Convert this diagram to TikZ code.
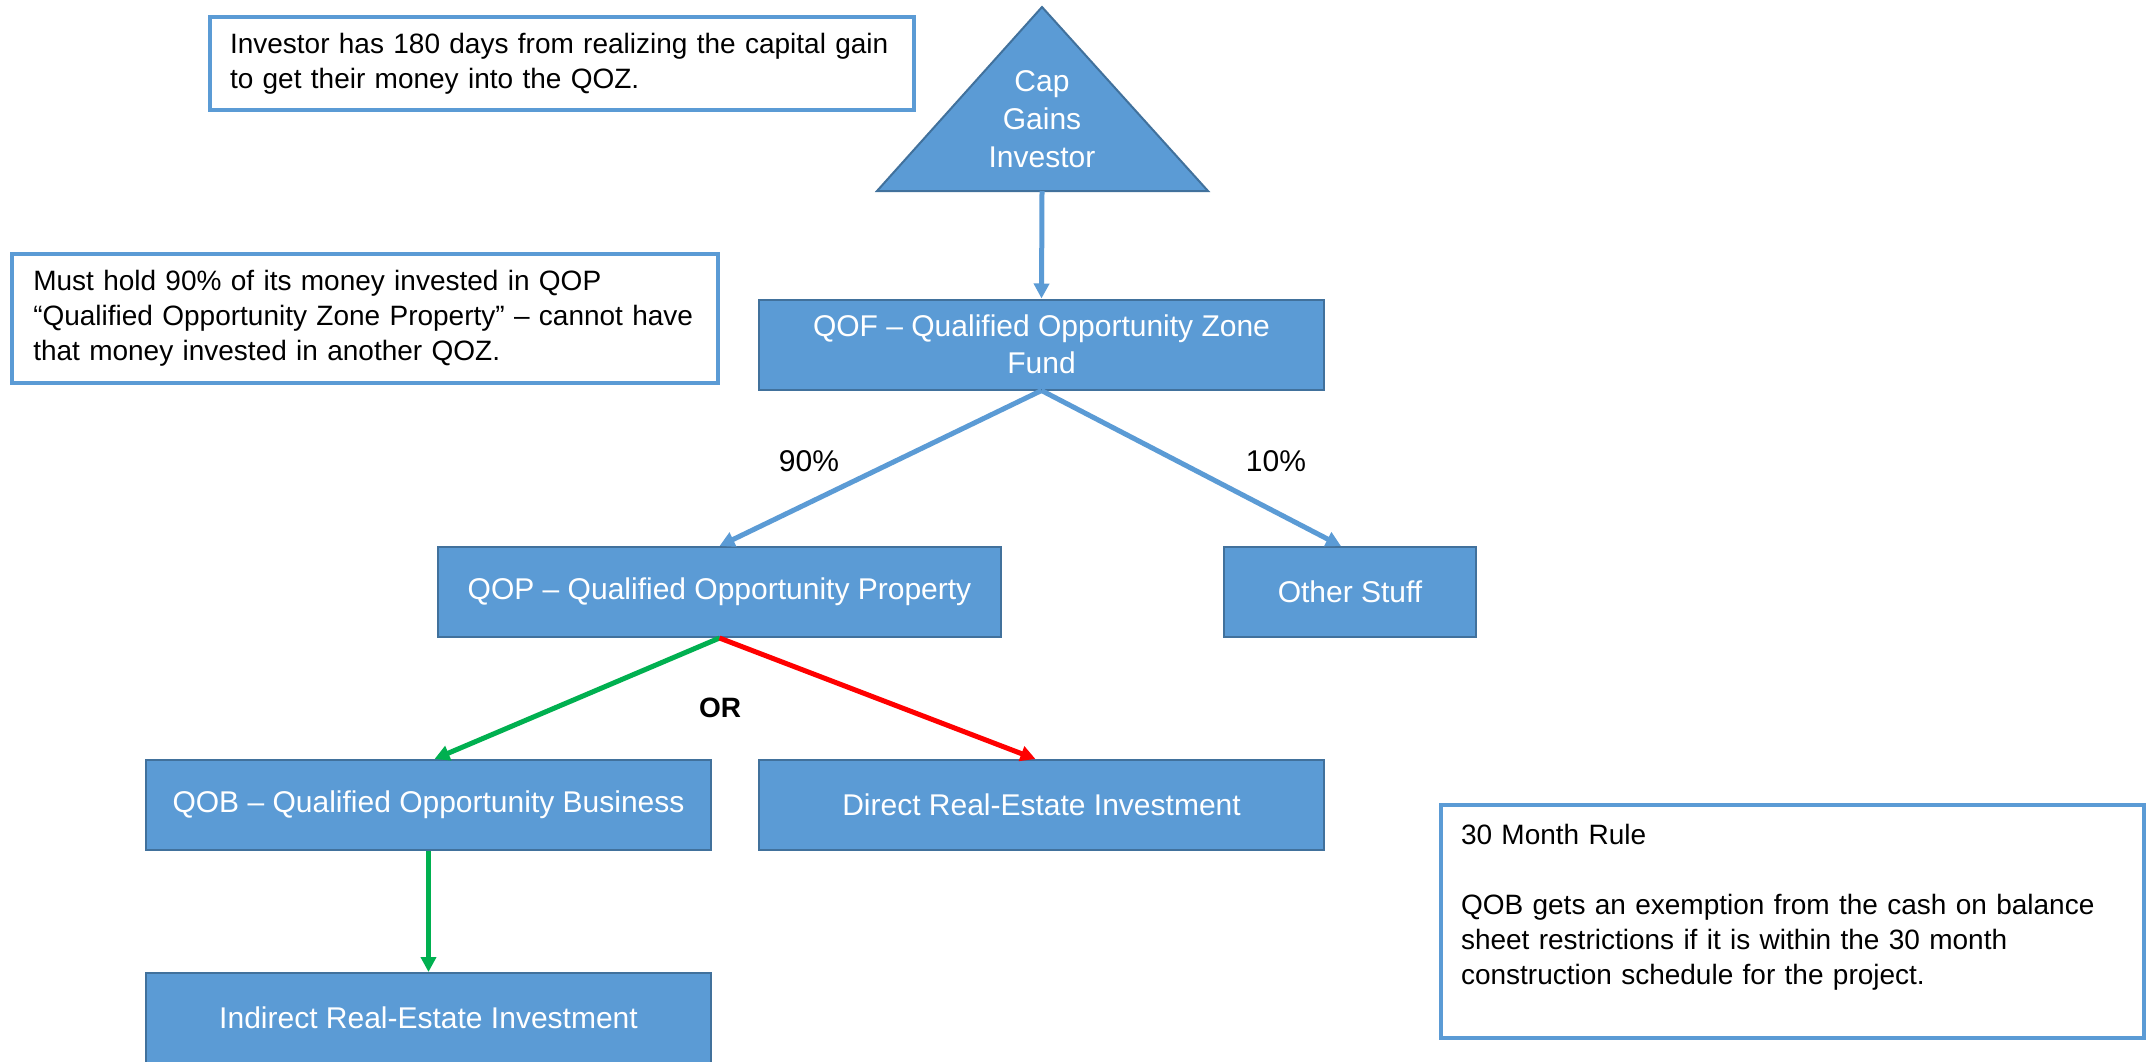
\documentclass[tikz,border=0pt]{standalone}
\usepackage{fontspec}
\setmainfont{Liberation Sans}
\usetikzlibrary{arrows.meta,calc}
\definecolor{boxblue}{HTML}{5B9BD5}
\definecolor{boxedge}{HTML}{41719C}
\definecolor{okgreen}{HTML}{00B050}
\definecolor{nored}{HTML}{FF0000}

\begin{document}
\begin{tikzpicture}[x=0.5pt,y=-0.5pt,
  stepbox/.style={draw=boxedge,line width=1pt,fill=boxblue,text=white,inner sep=0pt,
    minimum height=45pt,align=center,font=\fontsize{15}{18.5}\selectfont},
  notebox/.style={draw=boxblue,line width=2.2pt,fill=white,inner ysep=0pt,align=left,
    font=\fontsize{14}{17.5}\selectfont},
  flow/.style={line width=2.5pt,-{Triangle[length=7.5pt,width=7.5pt]}},
  pct/.style={font=\fontsize{15}{18}\selectfont}]

% page frame
\fill[white] (0,0) rectangle (2151,1061);
\clip (0,0) rectangle (2151,1061);

% investor triangle
\draw[draw=boxedge,line width=1pt,fill=boxblue] (1042,7) -- (1208,191) -- (877,191) -- cycle;
\node[text=white,align=center,font=\fontsize{15}{19}\selectfont] (cap) at (1042,119) {Cap\\Gains\\Investor};
\coordinate (capbase) at (1042,191);

% flow boxes
\node[stepbox,minimum width=282.5pt] (qof) at (1041.5,344.5) {QOF -- Qualified Opportunity Zone\\Fund};
\node[stepbox,minimum width=281.5pt] (qop) at (719.5,592) {QOP -- Qualified Opportunity Property};
\node[stepbox,minimum width=126pt] (other) at (1350,592) {Other Stuff};
\node[stepbox,minimum width=282.5pt] (qob) at (428.5,805) {QOB -- Qualified Opportunity Business};
\node[stepbox,minimum width=282.5pt] (direct) at (1041.5,805) {Direct Real-Estate Investment};
\node[stepbox,minimum width=282.5pt] (indirect) at (428.5,1018) {Indirect Real-Estate Investment};

% notes
\node[notebox,inner xsep=10pt,text width=332pt,minimum height=46.5pt] (note1) at (562,63.5)
  {Investor has 180 days from realizing the capital gain\\to get their money into the QOZ.};
\node[notebox,inner xsep=10.5pt,text width=331.75pt,minimum height=64.5pt] (note2) at (365,318.5)
  {Must hold 90\% of its money invested in QOP\\``Qualified Opportunity Zone Property'' -- cannot have\\that money invested in another QOZ.};
\node[notebox,inner xsep=10pt,text width=331.5pt,minimum height=116.5pt] (note3) at (1792.5,921.5)
  {30 Month Rule\\[17.5pt]QOB gets an exemption from the cash on balance\\sheet restrictions if it is within the 30 month\\construction schedule for the project.\\\mbox{}};

% connectors
\draw[flow,boxblue] (capbase) -- (qof.north);
\draw[flow,boxblue] (qof.south) -- (qop.north);
\draw[flow,boxblue] (qof.south) -- ($(other.north)+(-9,0)$);
\draw[flow,okgreen] (qop.south) -- ($(qob.north)+(6,0)$);
\draw[flow,nored] (qop.south) -- ($(direct.north)+(-6,0)$);
\draw[flow,okgreen] (qob.south) -- (indirect.north);

% labels
\node[pct] (p90) at (809,461) {90\%};
\node[pct] (p10) at (1276,461) {10\%};
\node[font=\fontsize{14}{17}\selectfont\bfseries] (or) at (720,708) {OR};
\end{tikzpicture}
\end{document}
